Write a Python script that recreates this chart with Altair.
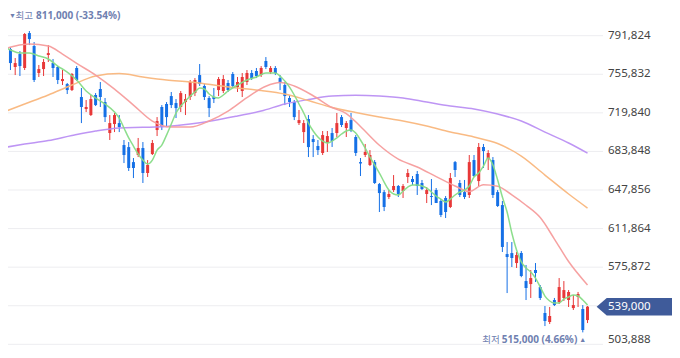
import altair as alt
import pandas as pd

# ---------------- data (won) ----------------
OPEN = [806400, 771900, 779400, 762600, 774700, 761700, 794300, 782200, 757000, 760700,
        773800, 766300, 762600, 749500, 746700, 741100, 761700, 734600, 723400, 717800,
        736500, 742100, 729900, 701000, 709400, 710300, 689800, 687900, 673900, 680500,
        687000, 663700, 681400, 703800, 725300, 728100, 735500, 729000, 725300, 729900,
        734600, 738300, 755100, 744900, 733700, 734600, 741100, 740200, 747700, 756100,
        743900, 740200, 748600, 757000, 758900, 755100, 768200, 757900, 761700, 752300,
        745800, 733700, 729900, 710300, 701900, 714100, 695400, 688900, 682400, 691700,
        701000, 701000, 715900, 705700, 713100, 697300, 673900, 680500, 671200, 673900,
        653400, 645900, 641300, 647800, 651600, 646900, 660000, 658100, 662800, 654400,
        644100, 642200, 647800, 637600, 640400, 632000, 673900, 654400, 645900, 643200,
        675800, 656200, 688000, 676800, 675800, 645900, 633800, 588100, 589000, 579700,
        589000, 562900, 560100, 573200, 557300, 533100, 524700, 545200, 543300, 547100,
        545200, 537700, 548000, 536800, 526500]
HIGH = [811000, 780300, 781300, 771000, 777500, 794300, 796200, 785900, 764500, 770100,
        783100, 770100, 763500, 759800, 747700, 757000, 763500, 743000, 731800, 736500,
        738300, 748600, 733700, 717800, 719700, 717800, 694500, 692600, 677700, 696400,
        692600, 675800, 694500, 715900, 727100, 729900, 739300, 732700, 740200, 737400,
        750500, 752300, 765400, 746700, 735500, 743000, 753300, 755100, 750500, 757900,
        753300, 757000, 759800, 759800, 761700, 763500, 771900, 763500, 763500, 755100,
        748600, 736500, 731800, 722500, 713100, 717800, 699100, 694500, 702900, 702900,
        705700, 719700, 717800, 712200, 719700, 699100, 677700, 690800, 685100, 675800,
        654400, 647800, 647800, 661800, 652500, 653400, 667400, 660900, 665600, 657200,
        650600, 658100, 649700, 639400, 642200, 663700, 674900, 657200, 657200, 680500,
        680500, 691700, 690800, 685100, 678600, 647800, 637600, 599300, 599300, 590000,
        590900, 577900, 573200, 579700, 559200, 539600, 538700, 547100, 565700, 562900,
        554500, 549900, 552700, 540500, 539600]
LOW = [747700, 764500, 759800, 755100, 754200, 759800, 783100, 748600, 753300, 754200,
       767300, 753300, 746700, 745800, 737400, 740200, 749500, 710300, 720600, 716900,
       726200, 725300, 711300, 694500, 701900, 701900, 673000, 665600, 659000, 678600,
       654400, 660000, 680500, 698200, 703800, 706600, 724300, 715000, 720600, 717800,
       731800, 735500, 744900, 731800, 715900, 729000, 735500, 738300, 739300, 743000,
       739300, 734600, 745800, 750500, 752300, 753300, 760700, 756100, 755100, 741100,
       727100, 725300, 713100, 708500, 691700, 678600, 678600, 680500, 680500, 683300,
       688000, 697300, 706600, 697300, 701900, 679600, 660900, 678600, 670200, 653500,
       627300, 628200, 639400, 646000, 641300, 640400, 654400, 652500, 643200, 647800,
       635700, 633800, 635700, 622600, 621700, 631000, 660000, 641300, 639400, 640400,
       660000, 651600, 668400, 666500, 640400, 632000, 590000, 551700, 576000, 575100,
       566500, 545200, 547100, 562000, 545200, 520900, 522800, 539600, 541500, 544300,
       538700, 535900, 538700, 515000, 523700]
CLOSE = [771000, 778500, 766300, 766300, 763500, 793400, 788700, 750500, 760700, 767300,
         775600, 761700, 750500, 751400, 741100, 756100, 750500, 725300, 725300, 732700,
         727100, 734600, 715900, 710300, 717800, 706600, 680500, 668400, 668400, 687000,
         663700, 671200, 691700, 712200, 706600, 715900, 727100, 724300, 738300, 732700,
         748600, 750500, 746700, 734600, 724300, 732700, 751400, 751400, 741100, 744900,
         748600, 753300, 757000, 752300, 754200, 761700, 762600, 761700, 757000, 747700,
         735500, 730000, 715900, 713100, 710300, 687900, 692600, 685100, 699100, 698200,
         693600, 710300, 708500, 710300, 702900, 682400, 672600, 683300, 680500, 654400,
         645000, 632000, 644100, 651600, 644100, 651600, 663700, 655300, 651600, 648800,
         647800, 641300, 635700, 624500, 627300, 659000, 666500, 643200, 641300, 673900,
         660900, 688000, 684200, 682400, 643200, 632900, 594700, 585300, 584400, 587200,
         567600, 556400, 565700, 570400, 547100, 525600, 530300, 540500, 557300, 554500,
         552700, 540500, 550800, 517200, 539000]

# moving averages at these candle positions
MA5_IDX = [0, 2, 4, 6, 8, 10, 12, 14, 16, 18, 20, 22, 24, 25, 26, 27, 28, 29, 30, 31, 32, 33,
           34, 35, 36, 37, 38, 39, 40, 41, 42, 43, 44, 45, 46, 47, 48, 50, 52, 54, 56, 58, 59,
           60, 61, 62, 63, 64, 65, 66, 67, 68, 69, 70, 71, 72, 73, 74, 75, 76, 77, 78, 79, 80,
           81, 82, 83, 84, 85, 86, 87, 88, 89, 90, 91, 92, 93, 94, 95, 96, 97, 98, 99, 100,
           101, 102, 103, 104, 105, 106, 107, 108, 109, 110, 111, 112, 113, 114, 115, 116,
           117, 118, 119, 120, 121, 122, 123, 124]
MA5 = [783100, 778500, 775600, 775600, 772900, 770100, 763500, 757900, 750500, 740200,
       733700, 728100, 720600, 715000, 705700, 696400, 688900, 681400, 675800, 672100,
       675800, 685100, 689800, 699100, 709400, 719700, 726200, 730900, 735500, 739300,
       743000, 742100, 737400, 734600, 733700, 736500, 740200, 745800, 750500, 753300,
       757000, 757000, 754200, 749500, 743900, 736500, 728100, 719700, 710300, 702900,
       697300, 693500, 691700, 693500, 696400, 700100, 702900, 703800, 701000, 694500,
       687000, 678600, 671200, 663700, 655300, 647800, 644100, 643200, 646900, 650600,
       652500, 652500, 651600, 649700, 646000, 642200, 639400, 636600, 639400, 643200,
       646000, 647800, 651600, 660000, 663700, 670200, 677700, 671200, 657200, 641300,
       627300, 607700, 591900, 580700, 575100, 571300, 565700, 557300, 548900, 544300,
       542400, 542400, 546100, 548000, 549900, 548900, 545200, 540500]
MA20_IDX = [0, 3, 6, 10, 13, 16, 20, 24, 28, 32, 36, 40, 44, 48, 52, 56, 59, 62, 66, 70, 73,
            76, 80, 84, 88, 92, 96, 99, 102, 105, 108, 111, 114, 117, 120, 124]
MA20 = [778400, 782200, 784000, 782200, 774700, 766000, 755100, 742000, 727100, 712200,
        706600, 706600, 712200, 721500, 734100, 744700, 748100, 744900, 735800, 724800,
        719200, 707100, 689600, 676700, 669300, 660400, 651600, 646400, 652700, 651300,
        643300, 633600, 622100, 602100, 581100, 559200]
MA60_IDX = [0, 5, 10, 15, 20, 25, 30, 35, 40, 45, 50, 55, 60, 65, 70, 75, 80, 85, 90, 95,
            100, 105, 110, 115, 120, 124]
MA60 = [719700, 728100, 736500, 745800, 754200, 756500, 753300, 750500, 748600, 745800,
        743000, 740700, 737400, 731300, 724800, 720100, 715900, 712200, 707500, 701900,
        697300, 691200, 679500, 661800, 644100, 631000]
MA120_IDX = [0, 5, 10, 15, 20, 25, 30, 35, 40, 45, 50, 55, 60, 65, 70, 75, 80, 85, 90, 95,
             100, 105, 110, 115, 120, 124]
MA120 = [687000, 690700, 694000, 698700, 702900, 705700, 706300, 707100, 709400, 712700,
         716900, 721500, 728100, 732300, 735500, 736200, 735500, 733700, 729900, 726200,
         723400, 718700, 712200, 701900, 691700, 682300]

TICKS = [503888, 539880, 575872, 611864, 647856, 683848, 719840, 755832, 791824]
LAST_PRICE = 539000
HIGH_PRICE, HIGH_TEXT = 811000, "811,000 (-33.54%)"
LOW_PRICE, LOW_TEXT = 515000, "515,000 (4.66%)"

# ---------------- styling ----------------
RED, BLUE = "#e83838", "#1570e6"
C5, C20, C60, C120 = "#86dc86", "#f59c9c", "#f9b67c", "#bb8ff3"
GRID, LABEL, NOTE, BOX = "#ededf0", "#444444", "#6f80b0", "#3f5b9a"
FONT = "Noto Sans, Noto Sans CJK KR, sans-serif"

W, H = 664, 338
xs = alt.Scale(domain=[1.48, 141.86], nice=False, zero=False, padding=0)
ys = alt.Scale(domain=[502299, 817669], nice=False, zero=False, padding=0)

n = len(OPEN)
candles = pd.DataFrame({"i": list(range(n)), "o": OPEN, "h": HIGH, "l": LOW, "c": CLOSE})
candles["dir"] = ["up" if c >= o else "down" for o, c in zip(OPEN, CLOSE)]

X = alt.X("i:Q", scale=xs, axis=None)
color = alt.Color("dir:N", scale=alt.Scale(domain=["up", "down"], range=[RED, BLUE]), legend=None)

ticks = pd.DataFrame({"t": TICKS, "lab": [f"{t:,}" for t in TICKS]})
low_tick = ticks[ticks["t"] == min(TICKS)]
other_ticks = ticks[ticks["t"] != min(TICKS)]

grid = alt.Chart(ticks).mark_rule(color=GRID, strokeWidth=1).encode(
    y=alt.Y("t:Q", scale=ys, axis=None), x=alt.value(0), x2=alt.value(595))
labels_main = alt.Chart(other_ticks).mark_text(
    align="left", baseline="middle", font=FONT, fontSize=11.5, color=LABEL).encode(
    y=alt.Y("t:Q", scale=ys, axis=None), x=alt.value(600), text="lab:N")
# the lowest label sits at the bottom edge: nudge it up so it stays whole
labels_low = alt.Chart(low_tick).mark_text(
    align="left", baseline="middle", font=FONT, fontSize=11.5, color=LABEL, dy=-4.5).encode(
    y=alt.Y("t:Q", scale=ys, axis=None), x=alt.value(600), text="lab:N")

wicks = alt.Chart(candles).mark_rule(strokeWidth=1).encode(
    x=X, y=alt.Y("l:Q", scale=ys, axis=None), y2="h:Q", color=color)
bodies = alt.Chart(candles).mark_bar(size=3).encode(
    x=X, y=alt.Y("o:Q", scale=ys, axis=None), y2="c:Q", color=color)


def ma_line(idx, vals, col):
    d = pd.DataFrame({"i": idx, "v": vals})
    return alt.Chart(d).mark_line(strokeWidth=1.5, interpolate="monotone", color=col,
                                  opacity=0.95).encode(
        x=X, y=alt.Y("v:Q", scale=ys, axis=None))


lines = [ma_line(MA120_IDX, MA120, C120), ma_line(MA60_IDX, MA60, C60),
         ma_line(MA20_IDX, MA20, C20), ma_line(MA5_IDX, MA5, C5)]

HI_DY = 0.5
hi_df = pd.DataFrame({"i": [0], "p": [HIGH_PRICE], "num": [HIGH_TEXT]})
hi_arrow = alt.Chart(hi_df).mark_text(text="▼", fontSize=7, align="left", baseline="middle",
                                      color=NOTE, dx=8, dy=HI_DY).encode(
    x=X, y=alt.Y("p:Q", scale=ys, axis=None))
hi_kor = alt.Chart(hi_df).mark_text(text="최고", font=FONT, fontSize=9.5, align="left",
                                    baseline="middle", color=NOTE, dx=14.5, dy=HI_DY).encode(
    x=X, y=alt.Y("p:Q", scale=ys, axis=None))
hi_num = alt.Chart(hi_df).mark_text(font=FONT, fontSize=10, fontWeight="bold", align="left",
                                    baseline="middle", color=NOTE, dx=35, dy=HI_DY).encode(
    x=X, y=alt.Y("p:Q", scale=ys, axis=None), text="num:N")

LO_DY = 7.5
lo_df = pd.DataFrame({"i": [n - 2], "p": [LOW_PRICE], "num": [LOW_TEXT]})
lo_arrow = alt.Chart(lo_df).mark_text(text="▲", fontSize=7, align="center", baseline="middle",
                                      color=NOTE, dx=0, dy=LO_DY).encode(
    x=X, y=alt.Y("p:Q", scale=ys, axis=None))
lo_num = alt.Chart(lo_df).mark_text(font=FONT, fontSize=10, fontWeight="bold", align="right",
                                    baseline="middle", color=NOTE, dx=-5.5, dy=LO_DY).encode(
    x=X, y=alt.Y("p:Q", scale=ys, axis=None), text="num:N")
lo_kor = alt.Chart(lo_df).mark_text(text="최저", font=FONT, fontSize=9.5, align="right",
                                    baseline="middle", color=NOTE, dx=-83, dy=LO_DY).encode(
    x=X, y=alt.Y("p:Q", scale=ys, axis=None))

last_df = pd.DataFrame({"p": [LAST_PRICE], "lab": [f"{LAST_PRICE:,}"]})
box_path = "M-1,0L-0.758,-0.211L1,-0.211L1,0.211L-0.758,0.211Z"
box = alt.Chart(last_df).mark_point(shape=box_path, size=83.3 ** 2, filled=True, opacity=1,
                                    color=BOX, strokeWidth=0).encode(
    x=alt.value(630.3), y=alt.Y("p:Q", scale=ys, axis=None))
box_text = alt.Chart(last_df).mark_text(align="left", baseline="middle", font=FONT,
                                        fontSize=11.5, color="white").encode(
    x=alt.value(600), y=alt.Y("p:Q", scale=ys, axis=None), text="lab:N")

chart = alt.layer(grid, labels_main, labels_low, wicks, bodies, *lines, hi_arrow, hi_kor,
                  hi_num, lo_arrow, lo_num, lo_kor, box, box_text).properties(
    width=W, height=H, padding=0, autosize=alt.AutoSizeParams(type="none"),
    background="white"
).configure_view(stroke=None).configure_scale(continuousPadding=0)

chart.save("out.html", embed_options={"renderer": "svg", "actions": False})
